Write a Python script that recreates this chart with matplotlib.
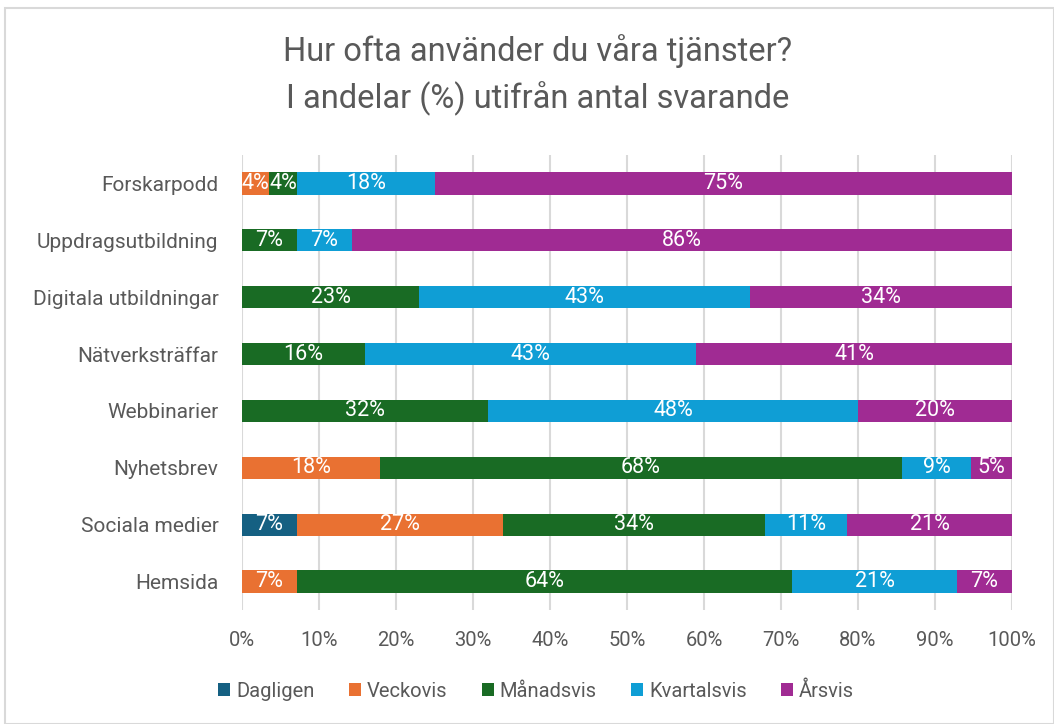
import matplotlib
matplotlib.use("Agg")
import matplotlib.pyplot as plt
from matplotlib.patches import Rectangle
import numpy as np

plt.rcParams['font.family'] = ['Roboto', 'DejaVu Sans']

categories = ["Hemsida", "Sociala medier", "Nyhetsbrev", "Webbinarier",
              "Nätverksträffar", "Digitala utbildningar", "Uppdragsutbildning", "Forskarpodd"]
series_names = ["Dagligen", "Veckovis", "Månadsvis", "Kvartalsvis", "Årsvis"]
dagligen    = [0.00, 7.14, 0.00, 0.00, 0.00, 0.00, 0.00, 0.00]
veckovis    = [7.14, 26.79, 17.86, 0.00, 0.00, 0.00, 0.00, 3.57]
manadsvis   = [64.29, 33.93, 67.86, 32.0, 16.0, 23.0, 7.14, 3.57]
kvartalsvis = [21.43, 10.71, 8.93, 48.0, 43.0, 43.0, 7.14, 17.86]
arsvis      = [7.14, 21.43, 5.36, 20.0, 41.0, 34.0, 85.72, 75.0]
colors = ["#156082", "#E97132", "#196B24", "#0F9ED5", "#A02B93"]
xticks = [0, 10, 20, 30, 40, 50, 60, 70, 80, 90, 100]

fig = plt.figure(figsize=(10.54, 7.24), dpi=100)
fig.patches.append(Rectangle((5/1054, 0), 1 - 5/1054, 1 - 8/724, transform=fig.transFigure,
                             fill=False, edgecolor="#D9D9D9", linewidth=1.5))
ax = fig.add_axes([242/1054, (724-610)/724, 770/1054, 455/724])

y = np.arange(len(categories))
left = np.zeros(len(categories))
for name, vals, col in zip(series_names, [dagligen, veckovis, manadsvis, kvartalsvis, arsvis], colors):
    vals = np.array(vals)
    ax.barh(y, vals, left=left, height=0.39, color=col, label=name, zorder=3)
    for yi, l, v in zip(y, left, vals):
        if v > 0:
            ax.text(l + v/2, yi, f"{round(v):d}%", ha="center", va="center",
                    color="white", fontsize=15.5, zorder=4)
    left = left + vals

ax.set_xlim(0, 100)
ax.set_ylim(-0.5, len(categories) - 0.5)
ax.set_xticks(xticks)
ax.set_xticklabels([f"{t}%" for t in xticks], fontsize=14.5, color="#595959")
ax.set_yticks(y)
ax.set_yticklabels(categories, fontsize=15, color="#595959")
ax.tick_params(axis="y", length=0, pad=17)
ax.tick_params(axis="x", length=0, pad=15)
ax.grid(axis="x", color="#D9D9D9", linewidth=1.5, zorder=0)
for s in ax.spines.values():
    s.set_visible(False)

fig.text(538/1054, 1 - 75/724, "Hur ofta använder du våra tjänster?\nI andelar (%) utifrån antal svarande",
         ha="center", va="center", fontsize=23.5, color="#595959", linespacing=1.5)

handles, labels = ax.get_legend_handles_labels()
fig.legend(handles, labels, loc="center", bbox_to_anchor=(536/1054, 1 - 691/724), ncol=5,
           frameon=False, fontsize=14.5, handlelength=0.6, handleheight=0.6,
           handletextpad=0.3, columnspacing=1.7, labelcolor="#595959")

fig.savefig("out.png", dpi=100)
